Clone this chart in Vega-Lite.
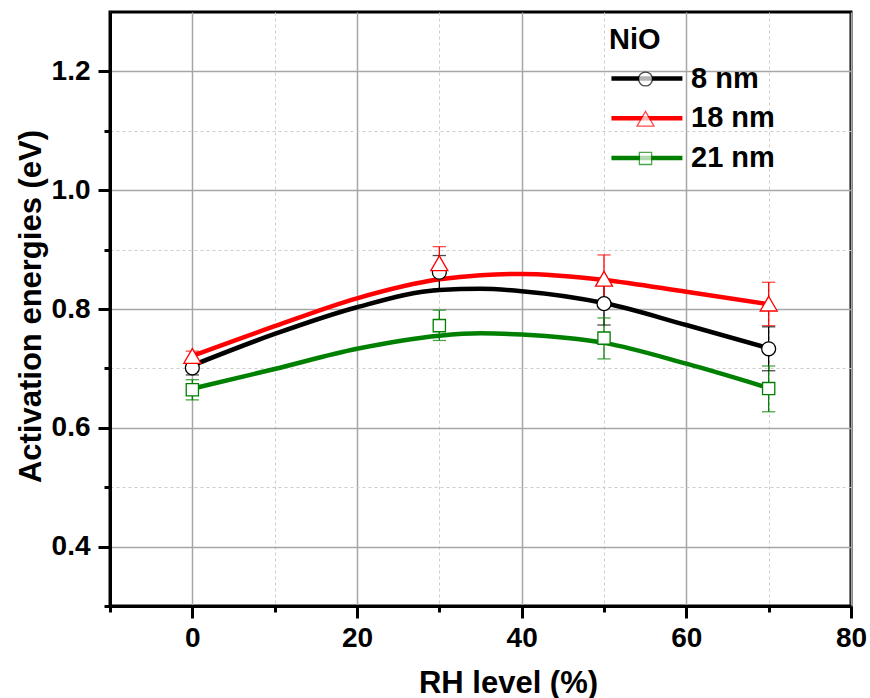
{
  "$schema": "https://vega.github.io/schema/vega-lite/v6.json",
  "width": 741,
  "height": 594,
  "autosize": "none",
  "padding": {"left": 110, "top": 12, "right": 19, "bottom": 92},
  "background": "white",
  "config": {
    "view": {"stroke": "black", "strokeWidth": 3},
    "font": "Liberation Sans",
    "axis": {
      "labelFont": "Liberation Sans", "labelFontWeight": "bold", "labelFontSize": 28, "labelColor": "black",
      "titleFont": "Liberation Sans", "titleFontWeight": "bold", "titleFontSize": 31, "titleColor": "black"
    },
    "legend": {
      "labelFont": "Liberation Sans", "labelFontWeight": "bold", "labelFontSize": 29, "labelColor": "black",
      "titleFont": "Liberation Sans", "titleFontWeight": "bold", "titleFontSize": 29, "titleColor": "black"
    }
  },
  "datasets": {
    "fit": [
      {"series": "8 nm", "rh": 0, "e": 0.705},
      {"series": "8 nm", "rh": 10, "e": 0.758},
      {"series": "8 nm", "rh": 20, "e": 0.803},
      {"series": "8 nm", "rh": 30, "e": 0.832},
      {"series": "8 nm", "rh": 35, "e": 0.834},
      {"series": "8 nm", "rh": 40, "e": 0.830},
      {"series": "8 nm", "rh": 50, "e": 0.810},
      {"series": "8 nm", "rh": 60, "e": 0.773},
      {"series": "8 nm", "rh": 70, "e": 0.734},
      {"series": "18 nm", "rh": 0, "e": 0.721},
      {"series": "18 nm", "rh": 10, "e": 0.771},
      {"series": "18 nm", "rh": 20, "e": 0.818},
      {"series": "18 nm", "rh": 30, "e": 0.850},
      {"series": "18 nm", "rh": 35, "e": 0.857},
      {"series": "18 nm", "rh": 40, "e": 0.859},
      {"series": "18 nm", "rh": 50, "e": 0.849},
      {"series": "18 nm", "rh": 60, "e": 0.829},
      {"series": "18 nm", "rh": 70, "e": 0.808},
      {"series": "21 nm", "rh": 0, "e": 0.666},
      {"series": "21 nm", "rh": 10, "e": 0.699},
      {"series": "21 nm", "rh": 20, "e": 0.733},
      {"series": "21 nm", "rh": 30, "e": 0.755},
      {"series": "21 nm", "rh": 35, "e": 0.759},
      {"series": "21 nm", "rh": 40, "e": 0.757},
      {"series": "21 nm", "rh": 50, "e": 0.743},
      {"series": "21 nm", "rh": 60, "e": 0.708},
      {"series": "21 nm", "rh": 70, "e": 0.667}
    ],
    "points": [
      {"series": "8 nm", "rh": 0, "e": 0.701, "lo": 0.689, "hi": 0.713},
      {"series": "8 nm", "rh": 30, "e": 0.862, "lo": 0.834, "hi": 0.890},
      {"series": "8 nm", "rh": 50, "e": 0.809, "lo": 0.773, "hi": 0.845},
      {"series": "8 nm", "rh": 70, "e": 0.733, "lo": 0.696, "hi": 0.770},
      {"series": "18 nm", "rh": 0, "e": 0.721, "lo": 0.713, "hi": 0.729},
      {"series": "18 nm", "rh": 30, "e": 0.877, "lo": 0.849, "hi": 0.905},
      {"series": "18 nm", "rh": 50, "e": 0.851, "lo": 0.810, "hi": 0.891},
      {"series": "18 nm", "rh": 70, "e": 0.809, "lo": 0.772, "hi": 0.845},
      {"series": "21 nm", "rh": 0, "e": 0.664, "lo": 0.647, "hi": 0.681},
      {"series": "21 nm", "rh": 30, "e": 0.772, "lo": 0.747, "hi": 0.798},
      {"series": "21 nm", "rh": 50, "e": 0.751, "lo": 0.716, "hi": 0.785},
      {"series": "21 nm", "rh": 70, "e": 0.666, "lo": 0.627, "hi": 0.704}
    ]
  },
  "layer": [
    {
      "data": {"name": "fit"},
      "mark": {"type": "line", "interpolate": "monotone", "strokeWidth": 4.5},
      "encoding": {
        "x": {
          "field": "rh", "type": "quantitative",
          "scale": {"domain": [-10, 80], "nice": false, "zero": false},
          "axis": {
            "orient": "bottom", "values": [0, 20, 40, 60, 80], "format": "d", "title": "RH level (%)",
            "grid": true, "gridColor": "#a6a6a6", "gridWidth": 1.5,
            "tickSize": 12, "tickWidth": 3, "tickColor": "black",
            "domainColor": "black", "domainWidth": 3,
            "labelPadding": 6, "labelFlush": false,
            "titleX": 398, "titleY": 86, "titleAlign": "center", "titleBaseline": "alphabetic"
          }
        },
        "y": {
          "field": "e", "type": "quantitative",
          "scale": {"domain": [0.3, 1.3], "nice": false, "zero": false},
          "axis": {
            "orient": "left", "values": [0.4, 0.6, 0.8, 1.0, 1.2], "format": ".1f", "title": "Activation energies (eV)",
            "grid": true, "gridColor": "#a6a6a6", "gridWidth": 1.5,
            "tickSize": 12, "tickWidth": 3, "tickColor": "black",
            "domainColor": "black", "domainWidth": 3,
            "labelPadding": 8,
            "titleX": -70, "titleY": 294, "titleAngle": 270, "titleAlign": "center", "titleBaseline": "alphabetic"
          }
        },
        "color": {
          "field": "series", "type": "nominal", "sort": null,
          "scale": {"range": ["#000000", "#ff0000", "#008000"]},
          "legend": {
            "orient": "none", "legendX": 499, "legendY": 14, "title": "NiO", "titlePadding": 9,
            "symbolType": "M-1.7,0H8.3", "symbolSize": 201.6, "symbolStrokeWidth": 4.5,
            "labelOffset": 53, "rowPadding": 9.7, "padding": 0, "zindex": 1
          }
        }
      }
    },
    {
      "data": {"name": "points"},
      "mark": {"type": "rule", "strokeWidth": 1.3},
      "encoding": {
        "x": {
          "field": "rh", "type": "quantitative",
          "axis": {
            "orient": "bottom", "values": [-10, 10, 30, 50, 70], "labels": false, "domain": false, "title": null,
            "grid": true, "gridColor": "#cccccc", "gridDash": [3, 3], "gridWidth": 1,
            "tickSize": 6, "tickWidth": 3, "tickColor": "black"
          }
        },
        "y": {
          "field": "lo", "type": "quantitative",
          "axis": {
            "orient": "left", "values": [0.3, 0.5, 0.7, 0.9, 1.1], "labels": false, "domain": false, "title": null,
            "grid": true, "gridColor": "#cccccc", "gridDash": [3, 3], "gridWidth": 1,
            "tickSize": 6, "tickWidth": 3, "tickColor": "black"
          }
        },
        "y2": {"field": "hi"},
        "stroke": {"field": "series", "type": "nominal"}
      }
    },
    {
      "data": {"name": "points"},
      "mark": {"type": "tick", "orient": "horizontal", "size": 12, "thickness": 0.01, "filled": false, "strokeWidth": 1.3},
      "encoding": {
        "x": {"field": "rh", "type": "quantitative", "axis": null},
        "y": {"field": "lo", "type": "quantitative", "axis": null},
        "stroke": {"field": "series", "type": "nominal"}
      }
    },
    {
      "data": {"name": "points"},
      "mark": {"type": "tick", "orient": "horizontal", "size": 12, "thickness": 0.01, "filled": false, "strokeWidth": 1.3},
      "encoding": {
        "x": {"field": "rh", "type": "quantitative", "axis": null},
        "y": {"field": "hi", "type": "quantitative", "axis": null},
        "stroke": {"field": "series", "type": "nominal"}
      }
    },
    {
      "data": {"name": "points"},
      "mark": {"type": "point", "filled": true, "fill": "white", "strokeWidth": 1.3, "opacity": 1, "size": 289},
      "encoding": {
        "x": {"field": "rh", "type": "quantitative", "axis": null},
        "y": {"field": "e", "type": "quantitative", "axis": null},
        "stroke": {
          "field": "series", "type": "nominal",
          "scale": {"domain": ["8 nm", "18 nm", "21 nm"], "range": ["#000000", "#ff0000", "#008000"]},
          "legend": {
            "orient": "none", "legendX": 521, "legendY": 52.5, "title": null, "labelExpr": "''",
            "symbolSize": 289, "symbolStrokeWidth": 1.3, "symbolFillColor": "white", "symbolOpacity": 1,
            "rowPadding": 9.7, "padding": 0, "zindex": 2,
            "encode": {"symbols": {"update": {"fill": {"value": "white"}, "fillOpacity": {"value": 1}, "opacity": {"value": 1}}}}
          }
        },
        "shape": {
          "field": "series", "type": "nominal",
          "scale": {
            "domain": ["8 nm", "18 nm", "21 nm"],
            "range": [
              "M-0.82,0A0.82,0.82,0,1,1,0.82,0A0.82,0.82,0,1,1,-0.82,0Z",
              "M0,-0.865L1,0.865L-1,0.865Z",
              "M-0.72,-0.72H0.72V0.72H-0.72Z"
            ]
          },
          "legend": {
            "orient": "none", "legendX": 521, "legendY": 52.5, "title": null, "labelExpr": "''",
            "symbolSize": 289, "symbolStrokeWidth": 1.3, "symbolFillColor": "white", "symbolOpacity": 1,
            "rowPadding": 9.7, "padding": 0, "zindex": 2,
            "encode": {"symbols": {"update": {"fill": {"value": "white"}, "fillOpacity": {"value": 1}, "opacity": {"value": 1}}}}
          }
        }
      }
    }
  ],
  "resolve": {"axis": {"x": "independent", "y": "independent"}}
}
